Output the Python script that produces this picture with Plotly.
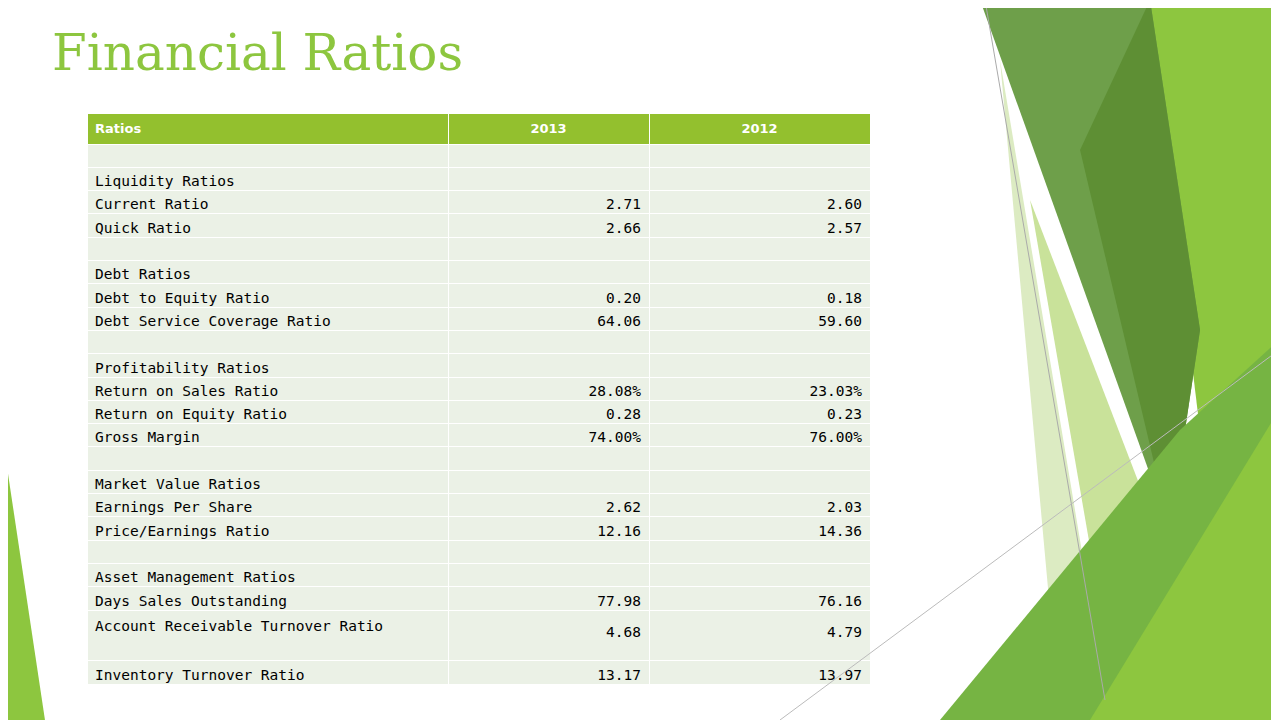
import plotly.graph_objects as go

W, H = 1279, 720
OFF = 8  # page body margin offset
header = ["Ratios", "2013", "2012"]
ratios = ["", "Liquidity Ratios", "Current Ratio", "Quick Ratio", "", "Debt Ratios",
          "Debt to Equity Ratio", "Debt Service Coverage Ratio", "", "Profitability Ratios",
          "Return on Sales Ratio", "Return on Equity Ratio", "Gross Margin", "",
          "Market Value Ratios", "Earnings Per Share", "Price/Earnings Ratio", "",
          "Asset Management Ratios", "Days Sales Outstanding",
          "Account Receivable Turnover Ratio<br> ", "Inventory Turnover Ratio"]
v2013 = ["", "", "2.71", "2.66", "", "", "0.20", "64.06", "", "", "28.08%", "0.28", "74.00%", "",
         "", "2.62", "12.16", "", "", "77.98", "<br>4.68", "13.17"]
v2012 = ["", "", "2.60", "2.57", "", "", "0.18", "59.60", "", "", "23.03%", "0.23", "76.00%", "",
         "", "2.03", "14.36", "", "", "76.16", "<br>4.79", "13.97"]

def px(x): return (x - OFF) / W
def py(y): return 1 - (y - OFF) / H

fig = go.Figure(go.Table(
    domain=dict(x=[px(87), px(870)], y=[py(690), py(113)]),
    columnwidth=[361, 201, 221],
    header=dict(values=[f"<b>{h}</b>" for h in header], fill_color="#93C02E",
                line_color="white", line_width=1, height=22,
                align=["left", "center", "center"],
                font=dict(family="DejaVu Sans", size=13, color="white")),
    cells=dict(values=[ratios, v2013, v2012], fill_color="#EBF1E6",
               line_color="white", line_width=1, height=23.3,
               align=["left", "right", "right"],
               font=dict(family="DejaVu Sans Mono", size=14.5, color="black")),
))

def P(pts):
    return "M " + " L ".join(f"{px(x):.4f},{py(y):.4f}" for x, y in pts) + " Z"

polys = [
    ([(0, 420), (45, 720), (0, 720)], "#8DC63F"),
    ([(1148, 0), (1279, 0), (1279, 720), (1235, 720)], "#8DC63F"),
    ([(1000, 60), (1110, 720), (1060, 720)], "#DCEBC2"),
    ([(1030, 200), (1230, 720), (1120, 720)], "#C9E29A"),
    ([(980, 0), (1150, 0), (1200, 330), (1170, 530)], "#6E9F4A"),
    ([(1080, 150), (1150, 0), (1200, 330), (1170, 530)], "#5E8F34"),
    ([(940, 720), (1180, 430), (1279, 340), (1279, 720)], "#76B443"),
    ([(1090, 720), (1279, 410), (1279, 720)], "#8DC63F"),
]
shapes = [dict(type="path", path=P(p), xref="paper", yref="paper", fillcolor=c,
               line_width=0, layer="below") for p, c in polys]
shapes += [dict(type="line", xref="paper", yref="paper", x0=px(985), y0=py(0), x1=px(1105),
                y1=py(700), line=dict(color="#AAAAAA", width=1)),
           dict(type="line", xref="paper", yref="paper", x0=px(780), y0=py(720), x1=px(1279),
                y1=py(350), line=dict(color="#BBBBBB", width=1))]

fig.update_layout(
    width=W, height=H, margin=dict(l=0, r=0, t=0, b=0),
    paper_bgcolor="white", plot_bgcolor="white", shapes=shapes,
    annotations=[dict(text="Financial Ratios", x=px(50), y=py(22), xref="paper",
                      yref="paper", xanchor="left", yanchor="top", showarrow=False,
                      font=dict(family="DejaVu Serif", size=50, color="#8DC63F"))],
)
fig.write_html("out.html")
